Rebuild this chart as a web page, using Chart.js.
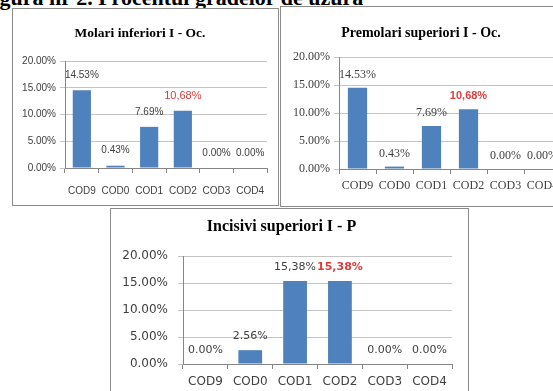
<!DOCTYPE html>
<html>
<head>
<meta charset="utf-8">
<script src="https://cdn.jsdelivr.net/npm/chart.js@4.4.0/dist/chart.umd.min.js"></script>
<style>
  html, body { margin: 0; padding: 0; background: #fff; }
  body { width: 553px; height: 391px; overflow: hidden; position: relative; }
  #fig { position: absolute; left: -20px; top: -15px; font: bold 22px "Liberation Serif", serif; white-space: nowrap; color: #000; }
  .box { position: absolute; border: 1px solid #8c8c8c; background: #fff; box-sizing: border-box; }
  .box canvas { position: absolute; left: 0; top: 0; }
</style>
</head>
<body>
<div id="fig">Figura nr 2. Procentul gradelor de uzura</div>
<div class="box" style="left:12px;top:8px;width:267px;height:198px"><canvas id="molari" width="265" height="196" style="width:265px;height:196px"></canvas></div>
<div class="box" style="left:280px;top:6px;width:300px;height:201px"><canvas id="premolari" width="290" height="198" style="width:290px;height:198px"></canvas></div>
<div class="box" style="left:110px;top:208px;width:359px;height:200px"><canvas id="incisivi" width="357" height="190" style="width:357px;height:190px"></canvas></div>

<script>
// Wear grades shared by the three charts
const categories = ['COD9', 'COD0', 'COD1', 'COD2', 'COD3', 'COD4'];
const yTickStep = 5;
const yMax = 20;

// Molari inferiori I - Oc.
const molariValues = [14.53, 0.43, 7.69, 10.68, 0, 0];
const molariSeparators = ['.', '.', '.', ',', '.', '.'];
const molariHighlight = [false, false, false, true, false, false];

// Premolari superiori I - Oc.
const premolariValues = [14.53, 0.43, 7.69, 10.68, 0, 0];
const premolariSeparators = ['.', '.', '.', ',', '.', '.'];
const premolariHighlight = [false, false, false, true, false, false];

// Incisivi superiori I - P
const incisiviValues = [0, 2.56, 15.38, 15.38, 0, 0];
const incisiviSeparators = ['.', '.', ',', ',', '.', '.'];
const incisiviHighlight = [false, false, false, true, false, false];

const BAR = '#4f81bd';
const GRID = '#c4c4c4';
const AXIS = '#868686';
const TEXT = '#404040';
const RED = '#e23b3b';

// Draws the percentage above each bar
const valueLabels = {
  id: 'valueLabels',
  afterDatasetsDraw(chart, args, o) {
    const ctx = chart.ctx;
    const ds = chart.data.datasets[0];
    const meta = chart.getDatasetMeta(0);
    ctx.save();
    ctx.textAlign = 'center';
    ctx.textBaseline = 'middle';
    meta.data.forEach((bar, i) => {
      const v = ds.data[i];
      const txt = v.toFixed(2).replace('.', o.separators[i]) + '%';
      const hi = o.highlight[i];
      ctx.font = hi ? o.hiFont : o.font;
      ctx.fillStyle = hi ? RED : TEXT;
      ctx.fillText(txt, bar.x, bar.y - o.offset);
    });
    ctx.restore();
  }
};

function makeChart(id, cfg) {
  return new Chart(document.getElementById(id), {
    type: 'bar',
    data: {
      labels: categories,
      datasets: [{
        data: cfg.values,
        backgroundColor: BAR,
        borderWidth: 0,
        categoryPercentage: 1,
        barPercentage: cfg.barPct
      }]
    },
    options: {
      responsive: false,
      animation: false,
      devicePixelRatio: 1,
      layout: { padding: { left: 0, right: cfg.padRight, top: 0, bottom: 0 } },
      plugins: {
        legend: { display: false },
        tooltip: { enabled: false },
        title: {
          display: true,
          text: cfg.title,
          color: '#000',
          font: { family: 'Liberation Serif', size: cfg.titleSize, weight: 'bold', lineHeight: 1.2 },
          padding: { top: cfg.titleTop, bottom: cfg.titleBottom }
        },
        valueLabels: {
          separators: cfg.separators,
          highlight: cfg.highlight,
          font: cfg.labelFont,
          hiFont: cfg.hiFont,
          offset: cfg.labelOffset
        }
      },
      scales: {
        x: {
          afterFit(s) { s.height = cfg.xHeight; },
          grid: { display: true, drawOnChartArea: false, drawTicks: true, tickLength: 5, color: AXIS },
          border: { display: true, color: AXIS },
          ticks: {
            color: TEXT,
            padding: cfg.xPad,
            maxRotation: 0,
            autoSkip: false,
            font: { family: cfg.tickFamily, size: cfg.tickSize }
          }
        },
        y: {
          min: 0,
          max: yMax,
          afterFit(s) { s.width = cfg.yWidth; },
          grid: { color: GRID, tickLength: 5, drawTicks: true },
          border: { display: true, color: AXIS },
          ticks: {
            stepSize: yTickStep,
            color: TEXT,
            padding: cfg.yPad,
            font: { family: cfg.tickFamily, size: cfg.tickSize },
            callback: v => v.toFixed(2) + '%'
          }
        }
      }
    },
    plugins: [valueLabels]
  });
}

makeChart('molari', {
  values: molariValues, separators: molariSeparators, highlight: molariHighlight,
  title: 'Molari inferiori I - Oc.', titleSize: 13.5, titleTop: 16, titleBottom: 19.8,
  padRight: 11, yWidth: 52, xHeight: 37, xPad: 12, yPad: 4, barPct: 0.54,
  tickFamily: 'Liberation Sans', tickSize: 10,
  labelFont: '10px "Liberation Sans"', hiFont: '11px "Liberation Sans"', labelOffset: 15
});

makeChart('premolari', {
  values: premolariValues, separators: premolariSeparators, highlight: premolariHighlight,
  title: 'Premolari superiori I - Oc.', titleSize: 14, titleTop: 17.6, titleBottom: 15.6,
  padRight: 10, yWidth: 58, xHeight: 36, xPad: 5, yPad: 4, barPct: 0.52,
  tickFamily: 'Liberation Serif', tickSize: 12,
  labelFont: '12px "Liberation Serif"', hiFont: 'bold 11px "Liberation Sans"', labelOffset: 13
});

makeChart('incisivi', {
  values: incisiviValues, separators: incisiviSeparators, highlight: incisiviHighlight,
  title: 'Incisivi superiori I - P', titleSize: 16, titleTop: 8.4, titleBottom: 19.4,
  padRight: 16, yWidth: 72, xHeight: 35, xPad: 6, yPad: 10, barPct: 0.53,
  tickFamily: 'DejaVu Sans', tickSize: 12,
  labelFont: '11px "DejaVu Sans"', hiFont: 'bold 11px "DejaVu Sans"', labelOffset: 14
});
</script>
</body>
</html>
